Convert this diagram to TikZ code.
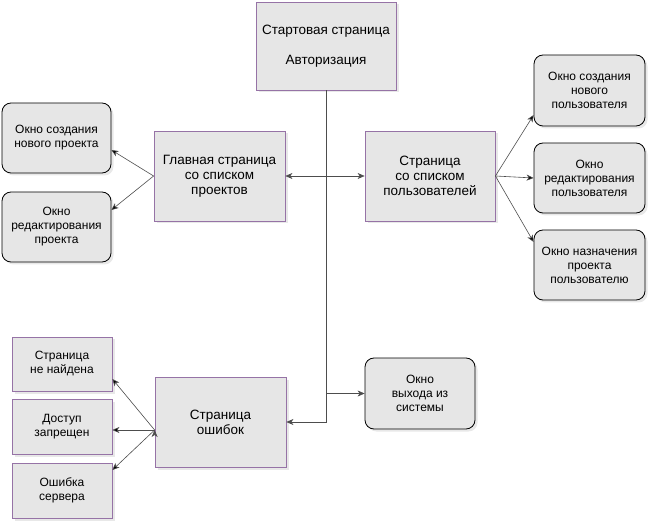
\documentclass[tikz,border=0pt]{standalone}
\usepackage{fontspec}
\setmainfont{Liberation Sans}
\usetikzlibrary{arrows.meta,shadows}
\definecolor{boxfill}{HTML}{E6E6E6}
\definecolor{boxline}{HTML}{9673A6}
\definecolor{linkcol}{HTML}{4D4D4D}

\begin{document}
\begin{tikzpicture}[x=1pt, y=-1pt,
    page/.style={draw=boxline, fill=boxfill, align=center, inner sep=2pt, line width=0.8pt,
      drop shadow={opacity=0.18, shadow xshift=2.5pt, shadow yshift=-2.5pt},
      font=\fontsize{13.5}{14.8}\selectfont},
    win/.style={page, draw=black, rounded corners=9pt, font=\fontsize{12}{14}\selectfont},
    errpage/.style={page, font=\fontsize{12}{14}\selectfont},
    link/.style={draw=linkcol, line width=0.6pt, -{Stealth[length=7pt,width=6pt,inset=2pt]}}]
  \useasboundingbox (0,0) rectangle (656,529);
  % pages
  \node[page, minimum width=140pt, minimum height=88pt] (start) at (326,46)
    {Стартовая страница\\[15pt]Авторизация};
  \node[page, minimum width=131pt, minimum height=90pt] (main) at (219.5,176)
    {Главная страница\\со списком\\проектов};
  \node[page, minimum width=130pt, minimum height=90pt] (users) at (430,176)
    {Страница\\со списком\\пользователей};
  \node[page, minimum width=131pt, minimum height=90pt] (err) at (220.5,422)
    {Страница\\ошибок};
  % windows
  \node[win, minimum width=109pt, minimum height=70pt] (newproj) at (56.5,138)
    {Окно создания\\нового проекта};
  \node[win, minimum width=109pt, minimum height=70pt] (editproj) at (56.5,227)
    {Окно\\редактирования\\проекта};
  \node[win, minimum width=111pt, minimum height=71pt] (newuser) at (589.5,90.5)
    {Окно создания\\нового\\пользователя};
  \node[win, minimum width=111pt, minimum height=70pt] (edituser) at (589.5,178)
    {Окно\\редактирования\\пользователя};
  \node[win, minimum width=111pt, minimum height=70pt] (assign) at (589.5,265)
    {Окно назначения\\проекта\\пользователю};
  \node[win, minimum width=110pt, minimum height=71pt] (logout) at (420,393.5)
    {Окно\\выхода из\\системы};
  % error pages
  \node[errpage, minimum width=100pt, minimum height=54pt] (notfound) at (62,364)
    {Страница\\не найдена};
  \node[errpage, minimum width=100pt, minimum height=55pt] (denied) at (62,426.5)
    {Доступ\\запрещен};
  \node[errpage, minimum width=100pt, minimum height=55pt] (server) at (62,490.5)
    {Ошибка\\сервера};
  \coordinate (errout) at ([yshift=-8pt]err.west);

  \draw[link] (start.south) -- (start.south |- err.east) -- (err.east);
  \draw[link] (start.south |- logout.west) -- (logout.west);
  \draw[link, {Stealth[length=7pt,width=6pt,inset=2pt]}-{Stealth[length=7pt,width=6pt,inset=2pt]}]
    (main.east) -- (users.west);
  \path[link]
  (main.west) edge ([yshift=-12pt]newproj.east)
              edge ([yshift=17pt]editproj.east)
  (users.east) edge ([yshift=-24.5pt]newuser.west)
               edge (edituser.west)
               edge ([yshift=23pt]assign.west)
  (errout) edge ([yshift=-15pt]notfound.east)
           edge ([yshift=-3.5pt]denied.east)
           edge ([yshift=20.5pt]server.east)
  ;
\end{tikzpicture}
\end{document}
